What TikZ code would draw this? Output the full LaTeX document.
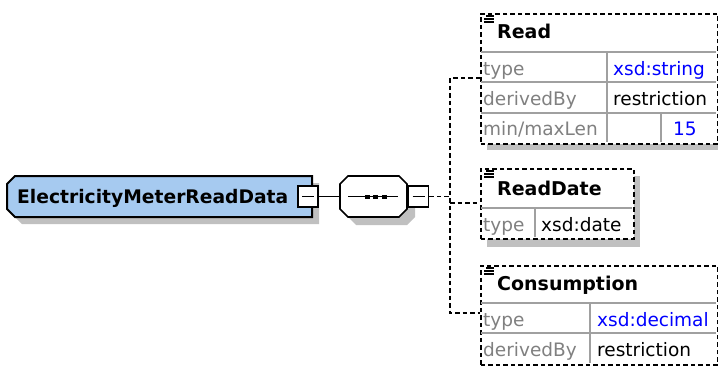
\documentclass[tikz,border=0pt]{standalone}
\usepackage{fontspec}
\setmainfont{DejaVu Sans}
\definecolor{rootblue}{RGB}{166,202,240}
\definecolor{shadegray}{RGB}{192,192,192}
\definecolor{gridgray}{RGB}{160,160,160}
\definecolor{labelgray}{RGB}{128,128,128}
\definecolor{valblue}{RGB}{0,0,255}
\begin{document}
\begin{tikzpicture}[x=1pt,y=-1pt,
  elem/.style={draw,dash pattern=on 4.5pt off 3pt,line width=1.8pt,fill=white,anchor=north west,inner sep=0pt},
  btn/.style={draw,fill=white,line width=1.5pt,minimum width=20pt,minimum height=21pt,inner sep=0pt,
    path picture={\draw[line width=1.5pt] ([xshift=-6pt]path picture bounding box.center) -- ([xshift=6pt]path picture bounding box.center);}},
  conn/.style={line width=1.8pt,dash pattern=on 4.5pt off 3pt},
  grid/.style={draw=gridgray,line width=1.6pt},
  lbl/.style={anchor=base west,inner sep=0pt,text=labelgray,font=\fontsize{18.5}{20}\selectfont},
  val/.style={anchor=base west,inner sep=0pt,font=\fontsize{18.5}{20}\selectfont},
  head/.style={anchor=base west,inner sep=0pt,font=\fontsize{19}{21}\selectfont\bfseries},
  shade/.style={fill=shadegray}]
\useasboundingbox (0,0) rectangle (718,367);
\fill[shade] (22,183) -- (319,183) -- (319,224) -- (22,224) -- (14,216) -- (14,191) -- cycle;
\fill[shade] (356,184) -- (407,184) -- (415,192) -- (415,217) -- (407,225) -- (356,225) -- (348,217) -- (348,192) -- cycle;
\fill[shade] (487,20) rectangle (718,150);
\fill[shade] (487,176) rectangle (640,247);
\filldraw[fill=rootblue,line width=2pt] (15,176) -- (312,176) -- (312,217) -- (15,217) -- (7,209) -- (7,184) -- cycle;
\node[head,font=\fontsize{18.7}{20}\selectfont\bfseries] (root) at (17,203) {ElectricityMeterReadData};
\node[btn] (rootbtn) at (308,196.5) {};
\node[minimum width=67pt,minimum height=41pt,inner sep=0pt] (seq) at (373.5,196.5) {};
\filldraw[fill=white,line width=1.6pt] (348,176) -- (399,176) -- (407,184) -- (407,209) -- (399,217) -- (348,217) -- (340,209) -- (340,184) -- cycle;
\draw[line width=1.5pt] (348,196.5) -- (398,196.5);
\foreach \x in {367,375.5,384.5}
  \fill ({\x-2.5},194.5) rectangle +(5,4);
\node[btn] (seqbtn) at (418.5,196.5) {};
\draw[line width=1.6pt] (rootbtn.east) -- (seq.west);
\coordinate (fork) at (450,196.5);
\coordinate (datefork) at (450,203);
\coordinate (readin) at (480,78);
\coordinate (datein) at (480,203);
\coordinate (consin) at (480,313);
\draw[conn] (seqbtn.east) -- (fork);
\draw[conn] (readin) -| (fork) |- (consin);
\draw[conn] (datefork) -- (datein);
% Read
\node[elem,minimum width=237pt,minimum height=130pt] (read) at (480,13) {};
\draw[grid] (481,52) -- (716,52) (481,82) -- (716,82) (481,113) -- (716,113)
  (607,52) -- (607,142) (661,113) -- (661,142);
\draw[line width=1.2pt] (486,16) -- (494,16) (484,19) -- (494,19) (484,22) -- (494,22);
\node[head] (readname) at (497,38) {Read};
\node[lbl] (readtype) at (483,75) {type};
\node[lbl] (readderiv) at (483,105) {derivedBy};
\node[lbl] (readlen) at (483,135) {min/maxLen};
\node[val,text=valblue] (readtypeval) at (613,75) {xsd:string};
\node[val] (readderivval) at (613,105) {restriction};
\node[val,text=valblue] (readlenval) at (673,135) {15};
% ReadDate
\node[elem,minimum width=153pt,minimum height=70pt] (readdate) at (480,168) {};
\draw[grid] (481,208) -- (632,208) (535,208) -- (535,237);
\draw[line width=1.2pt] (486,171) -- (494,171) (484,174) -- (494,174) (484,177) -- (494,177);
\node[head] (datename) at (497,195) {ReadDate};
\node[lbl] (datetype) at (483,231) {type};
\node[val] (datetypeval) at (541,231) {xsd:date};
% Consumption
\node[elem,minimum width=237pt,minimum height=99pt] (consumption) at (480,265) {};
\draw[grid] (481,303) -- (716,303) (481,333) -- (716,333) (590,303) -- (590,363);
\draw[line width=1.2pt] (486,268) -- (494,268) (484,271) -- (494,271) (484,274) -- (494,274);
\node[head] (consname) at (497,290) {Consumption};
\node[lbl] (constype) at (483,326) {type};
\node[lbl] (consderiv) at (483,356) {derivedBy};
\node[val,text=valblue] (constypeval) at (597,326) {xsd:decimal};
\node[val] (consderivval) at (597,356) {restriction};
\end{tikzpicture}
\end{document}
